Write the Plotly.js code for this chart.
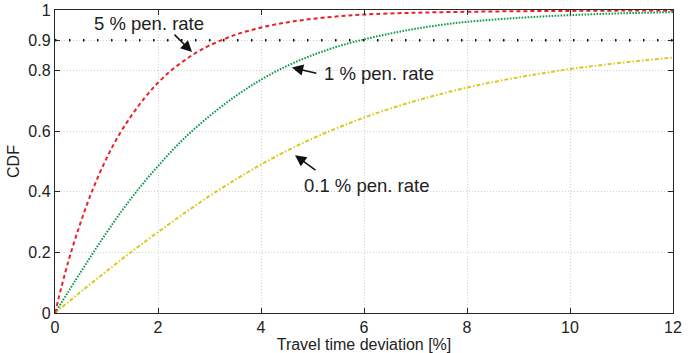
<!DOCTYPE html>
<html>
<head>
<meta charset="utf-8">
<script src="https://cdn.plot.ly/plotly-3.0.1.min.js"></script>
<style>html,body{margin:0;padding:0;background:#fff;}#chart{width:699px;height:353px;}</style>
</head>
<body>
<div id="chart"></div>
<script>
// Travel time deviation [%] and CDF values
const xRed = [0, 0.25, 0.5, 0.75, 1, 1.25, 1.5, 1.75, 2, 2.25, 2.5, 2.75, 3, 3.5, 4, 4.5, 5, 5.5, 6, 7, 8, 9, 10, 11, 12];
const yRed = [0, 0.165, 0.30, 0.415, 0.51, 0.59, 0.655, 0.712, 0.76, 0.80, 0.832, 0.86, 0.883, 0.918, 0.942, 0.959, 0.971, 0.979, 0.985, 0.991, 0.994, 0.996, 0.997, 0.998, 0.998];

const xGreen = [0, 0.5, 1, 1.5, 2, 2.5, 3, 3.5, 4, 4.5, 5, 5.5, 6, 6.5, 7, 7.5, 8, 9, 10, 11, 12];
const yGreen = [0, 0.135, 0.265, 0.383, 0.485, 0.575, 0.65, 0.715, 0.77, 0.815, 0.851, 0.88, 0.903, 0.922, 0.938, 0.951, 0.961, 0.974, 0.983, 0.989, 0.993];

const xYellow = [0, 0.5, 1, 1.5, 2, 2.5, 3, 3.5, 4, 4.5, 5, 5.5, 6, 6.5, 7, 7.5, 8, 8.5, 9, 9.5, 10, 10.5, 11, 11.5, 12];
const yYellow = [0, 0.07, 0.138, 0.204, 0.267, 0.328, 0.386, 0.44, 0.49, 0.535, 0.576, 0.612, 0.645, 0.674, 0.70, 0.723, 0.744, 0.762, 0.778, 0.792, 0.805, 0.816, 0.826, 0.835, 0.843];

const xThreshold = [0, 12];
const yThreshold = [0.9, 0.9];

const yTickVals = [0, 0.2, 0.4, 0.6, 0.8, 0.9, 1];
const yTickText = ['0', '0.2', '0.4', '0.6', '0.8', '0.9', '1'];
const xTickVals = [0, 2, 4, 6, 8, 10, 12];
const xTickText = ['0', '2', '4', '6', '8', '10', '12'];

const labels = ['5 % pen. rate', '1 % pen. rate', '0.1 % pen. rate'];

const FONT = 'Arial, "Liberation Sans", Helvetica, sans-serif';
const TXT = '#222222';

const traces = [
  {x: xThreshold, y: yThreshold, mode: 'lines', line: {color: '#111111', width: 2.5, dash: '1.5px,12.5px'}, hoverinfo: 'skip'},
  {x: xYellow, y: yYellow, mode: 'lines', line: {color: '#dcc81e', width: 2, dash: '4px,2px,1.5px,2px', shape: 'spline'}},
  {x: xGreen, y: yGreen, mode: 'lines', line: {color: '#0f9a4c', width: 2, dash: '1.6px,1.4px', shape: 'spline'}},
  {x: xRed, y: yRed, mode: 'lines', line: {color: '#ec2027', width: 2, dash: '4px,3px', shape: 'spline'}}
];

const axisCommon = {
  showline: true, mirror: 'ticks', linecolor: '#262626', linewidth: 1.2,
  ticks: 'inside', ticklen: 5, tickcolor: '#262626', tickwidth: 1,
  showgrid: true, gridcolor: '#cfcfcf', griddash: '1px,2px', gridwidth: 1,
  zeroline: false, tickfont: {family: FONT, size: 16, color: TXT}
};

const layout = {
  width: 699, height: 353,
  margin: {l: 55, r: 26, t: 10, b: 40},
  paper_bgcolor: '#ffffff', plot_bgcolor: '#ffffff',
  showlegend: false,
  font: {family: FONT, color: TXT},
  xaxis: Object.assign({}, axisCommon, {
    range: [0, 12], tickvals: xTickVals, ticktext: xTickText,
    title: {text: 'Travel time deviation [%]', font: {family: FONT, size: 16, color: TXT}, standoff: 0}
  }),
  yaxis: Object.assign({}, axisCommon, {
    range: [0, 1], tickvals: yTickVals, ticktext: yTickText,
    title: {text: 'CDF', font: {family: FONT, size: 16, color: TXT}, standoff: 4}
  }),
  annotations: [
    {x: 1.82, y: 0.954, xref: 'x', yref: 'y', text: labels[0], showarrow: false, font: {family: FONT, size: 18.5, color: TXT}},
    {x: 6.29, y: 0.789, xref: 'x', yref: 'y', text: labels[1], showarrow: false, font: {family: FONT, size: 18.5, color: TXT}},
    {x: 6.04, y: 0.422, xref: 'x', yref: 'y', text: labels[2], showarrow: false, font: {family: FONT, size: 18.5, color: TXT}},
    {x: 2.66, y: 0.861, xref: 'x', yref: 'y', text: '', showarrow: true, ax: -19, ay: -19, arrowhead: 2, arrowsize: 1.5, arrowwidth: 1.5, arrowcolor: '#111111', standoff: 0, startstandoff: 0},
    {x: 4.60, y: 0.81, xref: 'x', yref: 'y', text: '', showarrow: true, ax: 26, ay: 6, arrowhead: 2, arrowsize: 1.5, arrowwidth: 1.5, arrowcolor: '#111111', standoff: 0, startstandoff: 0},
    {x: 4.66, y: 0.521, xref: 'x', yref: 'y', text: '', showarrow: true, ax: 22, ay: 16, arrowhead: 2, arrowsize: 1.5, arrowwidth: 1.5, arrowcolor: '#111111', standoff: 0, startstandoff: 0}
  ]
};

Plotly.newPlot('chart', traces, layout, {staticPlot: true, displayModeBar: false});
</script>
</body>
</html>
